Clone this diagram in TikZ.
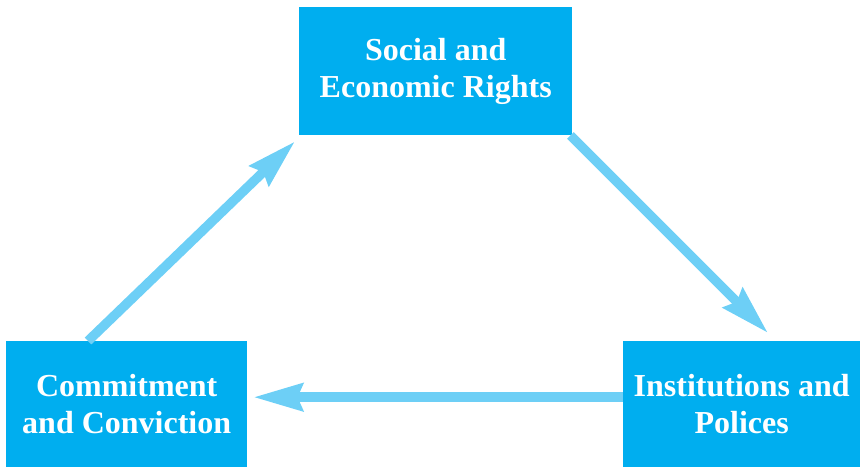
\documentclass[tikz,border=0pt]{standalone}
\usepackage{fontspec}
\setmainfont{Liberation Serif}
\usetikzlibrary{arrows.meta,calc}
\definecolor{boxblue}{HTML}{00AEEF}
\definecolor{arrowblue}{HTML}{6DCFF6}
\begin{document}
\begin{tikzpicture}[x=1pt,y=-1pt,
  box/.style={fill=boxblue, text=white, anchor=north west, inner sep=0pt,
    align=center, font=\fontsize{32}{37}\selectfont\bfseries},
  flow/.style={draw=arrowblue, line width=9.5pt,
    -{Stealth[length=49pt,width=27pt,inset=5pt]}}]
  \useasboundingbox (0,0) rectangle (860,467);

  % the three boxes of the cycle
  \node[box, minimum width=273pt, minimum height=128pt] (rights) at (299,7)
    {Social and\\Economic Rights};
  \node[box, minimum width=241pt, minimum height=126pt] (commit) at (6,341)
    {Commitment\\and Conviction};
  \node[box, minimum width=237pt, minimum height=126pt] (inst) at (623,341)
    {Institutions and\\Polices};

  % arrow end points on the box edges
  \coordinate (c1s) at ($(commit.north west)+(82,0)$);
  \coordinate (c1e) at ($(rights.south west)+(-4,6)$);
  \coordinate (c2s) at ($(rights.south east)+(-2,0)$);
  \coordinate (c2e) at ($(inst.north west)+(145,-8)$);
  \coordinate (c3s) at ($(inst.west)+(0,-7)$);
  \coordinate (c3e) at ($(commit.east)+(6,-7)$);

  \draw[flow] (c1s) -- (c1e);
  \draw[flow] (c2s) -- (c2e);
  \draw[flow] (c3s) -- (c3e);
\end{tikzpicture}
\end{document}
